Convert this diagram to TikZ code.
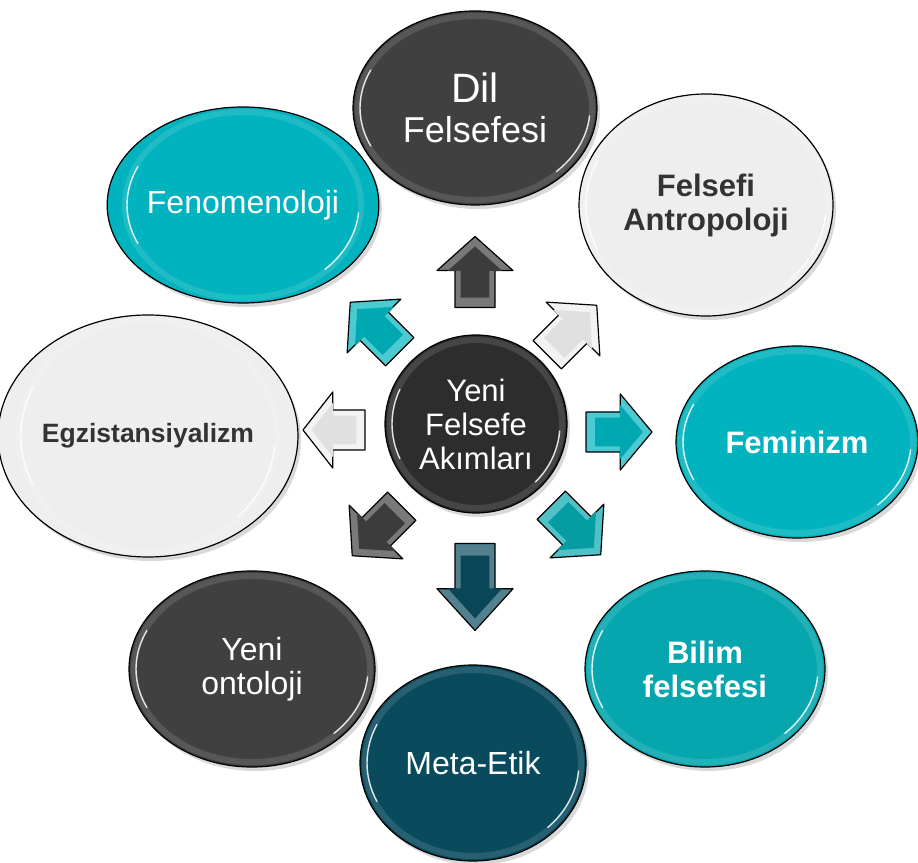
\documentclass[tikz,border=0pt]{standalone}
\usepackage{fontspec}
\setmainfont{Liberation Sans}
\usetikzlibrary{shapes.geometric,shadows}
\definecolor{koyu}{HTML}{404040}
\definecolor{merkezrenk}{HTML}{2D2D2D}
\definecolor{turkuaz}{HTML}{00B3BE}
\definecolor{turkuazb}{HTML}{05A6AE}
\definecolor{petrol}{HTML}{0A4A5D}
\definecolor{acik}{HTML}{EEEEEE}
\definecolor{yazi}{HTML}{333333}

\begin{document}
\begin{tikzpicture}[x=1pt, y=1pt,
  balon/.style={ellipse, draw=black, line width=1.2pt, inner sep=0pt, align=center,
    drop shadow={opacity=.3, shadow xshift=3pt, shadow yshift=-4pt}},
  ince/.style={text=white, font=\fontsize{32}{34}\selectfont},
  kalin/.style={font=\bfseries\fontsize{31}{34}\selectfont}]

\useasboundingbox (0,0) rectangle (918,862);

% oklar
\foreach \x/\y/\a/\l/\renk in {475/590/90/71/koyu, 572/532/45/70/acik, 619/430/0/66/turkuaz,
  576/332/-45/70/turkuazb, 475/275/-90/87/petrol, 377/331/-135/70/koyu,
  334/432/180/62/acik, 375/535/135/70/turkuaz}
{
  \begin{scope}[shift={(\x,\y)}, rotate=\a]
    \filldraw[fill=\renk!70!white, line width=1.2pt, line join=round]
      ({-\l/2},-20) -- ({.02*\l},-20) -- ({.02*\l},-38) -- ({\l/2},0)
      -- ({.02*\l},38) -- ({.02*\l},20) -- ({-\l/2},20) -- cycle;
    \fill[\renk!94!black, scale=.72]
      ({-\l/2},-20) -- ({.02*\l},-20) -- ({.02*\l},-38) -- ({\l/2},0)
      -- ({.02*\l},38) -- ({.02*\l},20) -- ({-\l/2},20) -- cycle;
  \end{scope}
}

\node[balon, fill=merkezrenk, text=white, minimum width=182, minimum height=178,
  font=\fontsize{31}{34}\selectfont] (merkez) at (476,438) {Yeni\\Felsefe\\Akımları};

\node[balon, fill=koyu, text=white, minimum width=244, minimum height=194,
  font=\fontsize{36}{40}\selectfont] (dil) at (475,754)
  {{\fontsize{41}{40}\selectfont Dil}\\Felsefesi};
\node[balon, fill=acik, text=yazi, kalin, minimum width=254, minimum height=222] (antro) at (706,657)
  {Felsefi\\Antropoloji};
\node[balon, fill=turkuaz, text=white, kalin, minimum width=242, minimum height=192] (feminizm) at (797,420)
  {Feminizm};
\node[balon, fill=turkuazb, text=white, kalin, minimum width=240, minimum height=196] (bilim) at (705,193)
  {Bilim\\felsefesi};
\node[balon, fill=petrol, ince, minimum width=226, minimum height=196] (meta) at (473,99)
  {Meta-Etik};
\node[balon, fill=koyu, ince, minimum width=246, minimum height=196] (ontoloji) at (252,193)
  {Yeni\\ontoloji};
\node[balon, fill=acik, text=yazi, font=\bfseries\fontsize{26.5}{30}\selectfont,
  minimum width=268, minimum height=242] (egz) at (148,426) {Egzistansiyalizm};
\node[balon, fill=turkuaz, ince, minimum width=246, minimum height=196] (fenomen) at (243,657)
  {Fenomenoloji};

% parlaklik
\foreach \n/\rx/\ry in {merkez/91/89, dil/122/97, antro/127/111, feminizm/121/96, bilim/120/98,
  meta/113/98, ontoloji/123/98, egz/134/121, fenomen/123/98}
{
  \draw[white, opacity=.12, line width=6pt] (\n.center) ellipse [x radius=\rx-5, y radius=\ry-5];
  \draw[white, opacity=.85, line width=1.4pt, line cap=round] (\n.center) ++(155:{\rx-7} and {\ry-7})
    arc [start angle=155, end angle=205, x radius=\rx-7, y radius=\ry-7];
  \draw[white, opacity=.85, line width=1.4pt, line cap=round] (\n.center) ++(-45:{\rx-7} and {\ry-7})
    arc [start angle=-45, end angle=-5, x radius=\rx-7, y radius=\ry-7];
}
\end{tikzpicture}
\end{document}
